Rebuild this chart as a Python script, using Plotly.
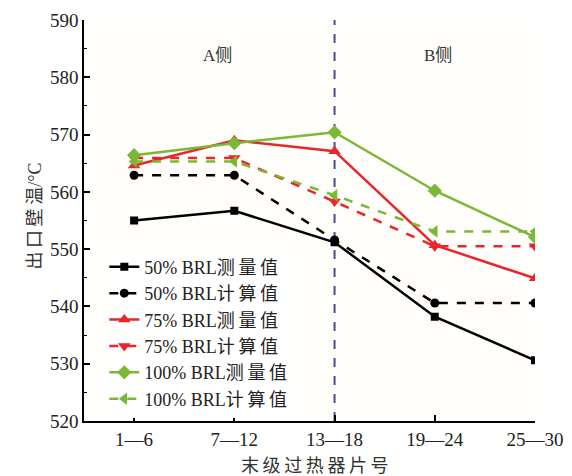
import plotly.graph_objects as go

categories = ["1—6", "7—12", "13—18", "19—24", "25—30"]
m50 = [555.0, 556.7, 551.2, 538.2, 530.6]
c50 = [562.9, 562.9, 551.6, 540.6, 540.6]
m75 = [564.6, 569.0, 567.1, 550.7, 544.9]
c75 = [565.9, 565.9, 558.3, 550.5, 550.5]
m100 = [566.4, 568.5, 570.4, 560.2, 552.1]
c100 = [565.3, 565.3, 559.4, 553.1, 553.1]

names = ["50% BRL测\u2009量\u2009值", "50% BRL计\u2009算\u2009值", "75% BRL测\u2009量\u2009值",
         "75% BRL计\u2009算\u2009值", "100% BRL测\u2009量\u2009值", "100% BRL计\u2009算\u2009值"]
series = [m50, c50, m75, c75, m100, c100]
colors = ["#000000", "#000000", "#e8262b", "#e8262b", "#7ab835", "#7ab835"]
dashes = ["solid", "dash", "solid", "dash", "solid", "dash"]
symbols = ["square", "circle", "triangle-up", "triangle-down", "diamond", "triangle-left"]
sizes = [8, 9, 11, 11, 11, 11]

xs = list(range(len(categories)))
font = "Liberation Serif, Times New Roman, Noto Sans CJK SC, serif"

fig = go.Figure()
for n, s, c, d, sym, sz in zip(names, series, colors, dashes, symbols, sizes):
    fig.add_trace(go.Scatter(
        x=xs, y=s, name=n, mode="lines+markers",
        line=dict(color=c, width=2.5, dash=d),
        marker=dict(symbol=sym, size=sz, color=c),
    ))

fig.add_shape(type="line", xref="x", yref="paper", x0=2, x1=2, y0=0, y1=1,
              line=dict(color="#4a4aa0", width=2, dash="dash"), layer="below")

fig.add_annotation(x=0.83, y=583.8, xref="x", yref="y", text="A侧", showarrow=False,
                   font=dict(family=font, size=17, color="#333333"))
fig.add_annotation(x=3.03, y=583.8, xref="x", yref="y", text="B侧", showarrow=False,
                   font=dict(family=font, size=17, color="#333333"))

# axis titles
fig.add_annotation(xref="paper", yref="paper", x=0.512, y=-0.083, yanchor="top",
                   text="末\u2009级\u2009过\u2009热\u2009器\u2009片\u2009号", showarrow=False,
                   font=dict(family=font, size=18, color="#333333"))
fig.add_annotation(xref="paper", yref="paper", x=-0.135, y=0.51, textangle=-90,
                   text="出\u2009口\u2009壁\u2009温/°C", showarrow=False,
                   font=dict(family=font, size=18, color="#333333"))

# The page body adds an 8px offset; margins compensate for it.
fig.update_layout(
    width=564, height=468,
    margin=dict(l=76, r=37, t=12, b=55, autoexpand=False),
    paper_bgcolor="white", plot_bgcolor="#fffefb",
    font=dict(family=font, size=19, color="#222222"),
    showlegend=True,
    legend=dict(x=0.045, y=0.43, xanchor="left", yanchor="top",
                bgcolor="white", borderwidth=0,
                font=dict(family=font, size=18, color="#222222"),
                tracegroupgap=0, itemwidth=30),
    xaxis=dict(
        range=[-0.5, 4], tickmode="array", tickvals=xs, ticktext=categories,
        showline=True, linecolor="black", linewidth=1.5, mirror=False,
        ticks="inside", ticklen=6, tickwidth=1.5, tickcolor="black",
        showgrid=False, zeroline=False, automargin=False,
    ),
    yaxis=dict(
        range=[520, 590], tickmode="linear", tick0=520, dtick=10,
        showline=True, linecolor="black", linewidth=1.5,
        ticks="inside", ticklen=6, tickwidth=1.5, tickcolor="black",
        minor=dict(ticks="inside", ticklen=3, dtick=5, tickcolor="black", tickwidth=1),
        showgrid=False, zeroline=False, automargin=False,
    ),
)

fig.write_html("out.html")
